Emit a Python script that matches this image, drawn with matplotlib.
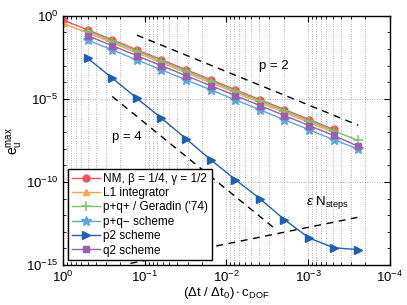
import matplotlib
matplotlib.use("Agg")
import matplotlib.pyplot as plt
import numpy as np
from matplotlib.ticker import LogLocator, NullFormatter

plt.rcParams['font.family'] = ['Liberation Sans', 'DejaVu Sans']
plt.rcParams['mathtext.fontset'] = 'custom'
plt.rcParams['mathtext.rm'] = 'Liberation Sans'
plt.rcParams['mathtext.it'] = 'Liberation Sans:italic'
plt.rcParams['mathtext.sf'] = 'Liberation Sans'

# step sizes
dt_a = [1.0, 0.5, 0.25, 0.125, 0.0625, 0.03125, 0.015625, 0.0078125,
        0.00390625, 0.001953125, 0.0009765625, 0.00048828125]
dt_b = [0.5, 0.25, 0.125, 0.0625, 0.03125, 0.015625, 0.0078125,
        0.00390625, 0.001953125, 0.0009765625, 0.00048828125, 0.000244140625]

err_nm = [5.5e-1, 1.45e-1, 3.6e-2, 9.1e-3, 2.3e-3, 5.75e-4, 1.45e-4, 3.6e-5,
          9.1e-6, 2.3e-6, 5.75e-7, 1.45e-7]
err_l1 = [3.5e-1, 9.5e-2, 2.4e-2, 6.0e-3, 1.5e-3, 3.8e-4, 9.5e-5, 2.4e-5,
          6.0e-6, 1.5e-6, 3.8e-7, 9.5e-8]
err_ppqp = [1.2e-1, 3.0e-2, 7.6e-3, 1.9e-3, 4.8e-4, 1.2e-4, 3.0e-5, 7.6e-6,
            1.9e-6, 4.8e-7, 1.2e-7, 3.2e-8]
err_pqm = [3.5e-2, 8.9e-3, 2.2e-3, 5.6e-4, 1.4e-4, 3.5e-5, 8.9e-6, 2.2e-6,
           5.6e-7, 1.4e-7, 3.5e-8, 9.5e-9]
err_p2 = [2.8e-3, 1.8e-4, 1.1e-5, 6.9e-7, 4.0e-8, 2.2e-9, 1.4e-10, 1.0e-11,
          5.4e-13, 4.3e-14, 1.1e-14, 8.5e-15]
err_q2 = [6.3e-2, 1.6e-2, 4.0e-3, 1.0e-3, 2.5e-4, 6.3e-5, 1.6e-5, 4.0e-6,
          1.0e-6, 2.5e-7, 6.3e-8, 1.4e-8]

# reference slopes (end points)
ref_p2_x = [0.125, 2.44e-4]
ref_p2_y = [6.9e-2, 2.6e-7]
ref_p4_x = [0.25, 2.4e-3]
ref_p4_y = [1.4e-5, 1.2e-13]
ref_eps_x = [0.15, 2.5e-4]
ref_eps_y = [1.26e-15, 7.4e-13]

labels = ['NM, β = 1/4, γ = 1/2', 'L1 integrator', "p+q+ / Geradin ('74)",
          'p+q− scheme', 'p2 scheme', 'q2 scheme']

fig = plt.figure(figsize=(4.07, 3.05), dpi=100)
ax = fig.add_axes([0.155, 0.131, 0.803, 0.817])

ax.set_xscale('log')
ax.set_yscale('log')

c_red = '#F0535B'
c_orange = '#F8A254'
c_green = '#7CC26C'
c_lblue = '#5DA5DA'
c_dblue = '#1F5FAF'
c_purple = '#9A5FAE'

lw = 1.0
ax.plot(dt_a, err_nm, color=c_red, marker='o', ms=5, lw=lw, label=labels[0])
ax.plot(dt_a, err_l1, color=c_orange, marker='^', ms=5, lw=lw, label=labels[1])
ax.plot(dt_b, err_ppqp, color=c_green, marker='+', ms=7, mew=1.1, lw=lw, label=labels[2])
ax.plot(dt_b, err_pqm, color=c_lblue, marker='*', ms=7, lw=lw, label=labels[3])
ax.plot(dt_b, err_p2, color=c_dblue, marker='>', ms=5.5, lw=lw, label=labels[4])
ax.plot(dt_b, err_q2, color=c_purple, marker='s', ms=4.5, lw=lw, label=labels[5])

ax.plot(ref_p2_x, ref_p2_y, color='black', ls=(0, (5, 4)), lw=1.0)
ax.plot(ref_p4_x, ref_p4_y, color='black', ls=(0, (5, 4)), lw=1.0)
ax.plot(ref_eps_x, ref_eps_y, color='black', ls=(0, (5, 4)), lw=1.0)

ax.text(2.6e-3, 9.3e-4, 'p = 2', fontsize=9.5, ha='center', va='center')
ax.text(0.165, 5e-8, 'p = 4', fontsize=9.5, ha='center', va='center')
ax.text(1.05e-3, 6e-12, r'$\epsilon\ \mathrm{N}_{\mathrm{steps}}$', fontsize=9.5,
        ha='left', va='center')

ax.set_xlim(1, 1e-4)
ax.set_ylim(1e-15, 1)

ax.set_xticks([1, 1e-1, 1e-2, 1e-3, 1e-4])
ax.set_yticks([1, 1e-5, 1e-10, 1e-15])
ax.xaxis.set_minor_locator(LogLocator(base=10, subs=np.arange(2, 10), numticks=20))
ax.xaxis.set_minor_formatter(NullFormatter())
ax.yaxis.set_minor_locator(LogLocator(base=10, subs=[1.0], numticks=30))
ax.yaxis.set_minor_formatter(NullFormatter())

ax.tick_params(which='both', direction='in', top=True, right=True, labelsize=9.5)
ax.tick_params(which='major', length=4, width=0.8)
ax.tick_params(which='minor', length=2, width=0.6)

ax.grid(True, which='major', axis='both', ls=(0, (1, 2.5)), color='#666666', lw=0.5)
ax.grid(True, which='minor', axis='x', ls=(0, (1, 2.5)), color='#666666', lw=0.5)

for s in ax.spines.values():
    s.set_linewidth(1.0)

ax.set_xlabel(r'$(\Delta\mathrm{t}\ /\ \Delta\mathrm{t}_0)\cdot\mathrm{c}_{\mathrm{DOF}}$',
              fontsize=9.5, labelpad=0)
ax.set_ylabel(r'$\mathrm{e}_\mathrm{u}^{\mathrm{max}}$', fontsize=10, labelpad=1)

leg = ax.legend(loc='lower left', bbox_to_anchor=(0.015, 0.02), borderaxespad=0,
                fontsize=8.5, fancybox=False, framealpha=1, edgecolor='black',
                handlelength=2.4, labelspacing=0.2, borderpad=0.3, handletextpad=0.3)
leg.get_frame().set_linewidth(1.0)

fig.savefig('out.png', dpi=100)
